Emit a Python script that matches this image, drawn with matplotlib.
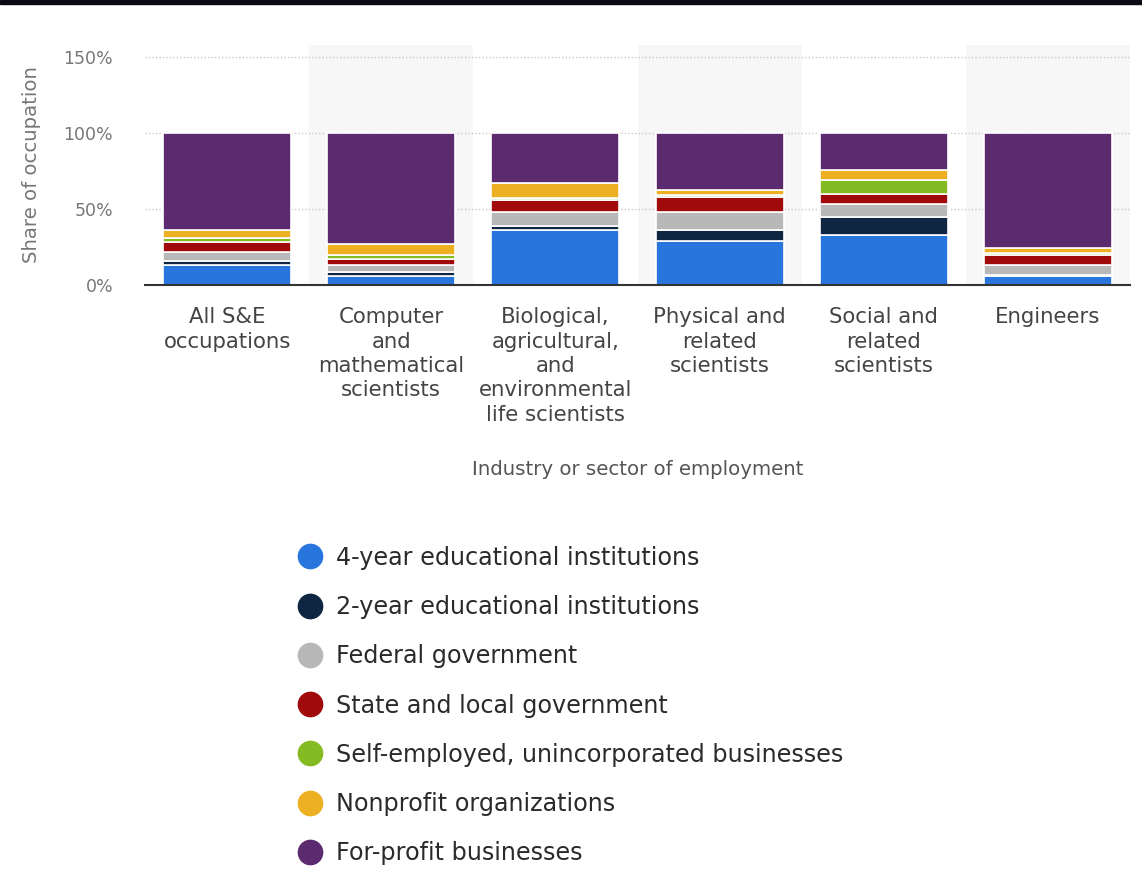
import numpy as np
import matplotlib
matplotlib.use("Agg")
from matplotlib import pyplot as plt
from matplotlib.lines import Line2D
from matplotlib.patches import Rectangle

plt.rcParams["font.family"] = ["DejaVu Sans"]

categories = [
    "All S&E\noccupations",
    "Computer\nand\nmathematical\nscientists",
    "Biological,\nagricultural,\nand\nenvironmental\nlife scientists",
    "Physical and\nrelated\nscientists",
    "Social and\nrelated\nscientists",
    "Engineers",
]

series_names = [
    "4-year educational institutions",
    "2-year educational institutions",
    "Federal government",
    "State and local government",
    "Self-employed, unincorporated businesses",
    "Nonprofit organizations",
    "For-profit businesses",
]

four_year = [13, 6, 36, 29, 33, 6]
two_year = [3, 2.5, 3, 7, 12, 0.5]
federal = [6, 4.5, 9, 12, 8, 6.5]
state_local = [6, 4, 8, 10, 7, 6.5]
self_employed = [3, 3, 1, 1.5, 9, 1.5]
nonprofit = [5, 7, 10, 3, 7, 3.5]
for_profit = [64, 73, 33, 37.5, 24, 75.5]

colors = ["#2876dd", "#0f2642", "#b8b8b8", "#a10a0a", "#84bb22", "#ecb022", "#5c2a6e"]

y_ticks = [0, 50, 100, 150]
y_tick_labels = ["0%", "50%", "100%", "150%"]

fig = plt.figure(figsize=(11.42, 8.93), dpi=100)
ax = fig.add_axes([145 / 1142, 1 - 285 / 893, 985 / 1142, 240 / 893])

x = np.arange(len(categories))
stack = [four_year, two_year, federal, state_local, self_employed, nonprofit, for_profit]

# alternating column shading
for i in x:
    if i % 2 == 1:
        ax.axvspan(i - 0.5, i + 0.5, color="#f7f7f7", zorder=0, lw=0)

for yv in y_ticks[1:]:
    ax.axhline(yv, color="#c8c8c8", lw=1, ls=(0, (1, 1.5)), zorder=1)

bottom = np.zeros(len(categories))
for vals, col, name in zip(stack, colors, series_names):
    vals = np.array(vals, dtype=float)
    ax.bar(x, vals, bottom=bottom, width=0.78, color=col, edgecolor="white",
           linewidth=1.2, label=name, zorder=2)
    bottom += vals

ax.set_xlim(-0.5, len(categories) - 0.5)
ax.set_ylim(0, 158)
ax.set_yticks(y_ticks)
ax.set_yticklabels(y_tick_labels, color="#777777", fontsize=12.5)
ax.set_xticks(x)
ax.set_xticklabels(categories, color="#444444", fontsize=15.3, linespacing=1.27)
ax.tick_params(axis="both", length=0)
ax.tick_params(axis="y", pad=23)
ax.tick_params(axis="x", pad=16)

for side in ["top", "right", "left"]:
    ax.spines[side].set_visible(False)
ax.spines["bottom"].set_color("#333333")
ax.spines["bottom"].set_linewidth(1.5)
ax.spines["bottom"].set_zorder(3)

ax.set_ylabel("Share of occupation", color="#777777", fontsize=14.2, labelpad=16)
fig.text(638 / 1142, 1 - 469 / 893, "Industry or sector of employment",
         ha="center", va="center", color="#555555", fontsize=14.2)

handles = [Line2D([], [], marker="o", ls="", markersize=17.5, color=c,
                  markeredgecolor=c) for c in colors]
fig.legend(handles, series_names, loc="upper left",
           bbox_to_anchor=(288 / 1142, 1 - 536 / 893), frameon=False,
           fontsize=17.2, labelspacing=1.06, handletextpad=0.59,
           labelcolor="#2a2a2a", borderaxespad=0, handlelength=1.0)

# dark strip along the top edge
fig.patches.append(Rectangle((0, 1 - 4 / 893), 1, 4 / 893, transform=fig.transFigure,
                             color="#0a0a14", zorder=10))

fig.savefig("out.png", dpi=100)
